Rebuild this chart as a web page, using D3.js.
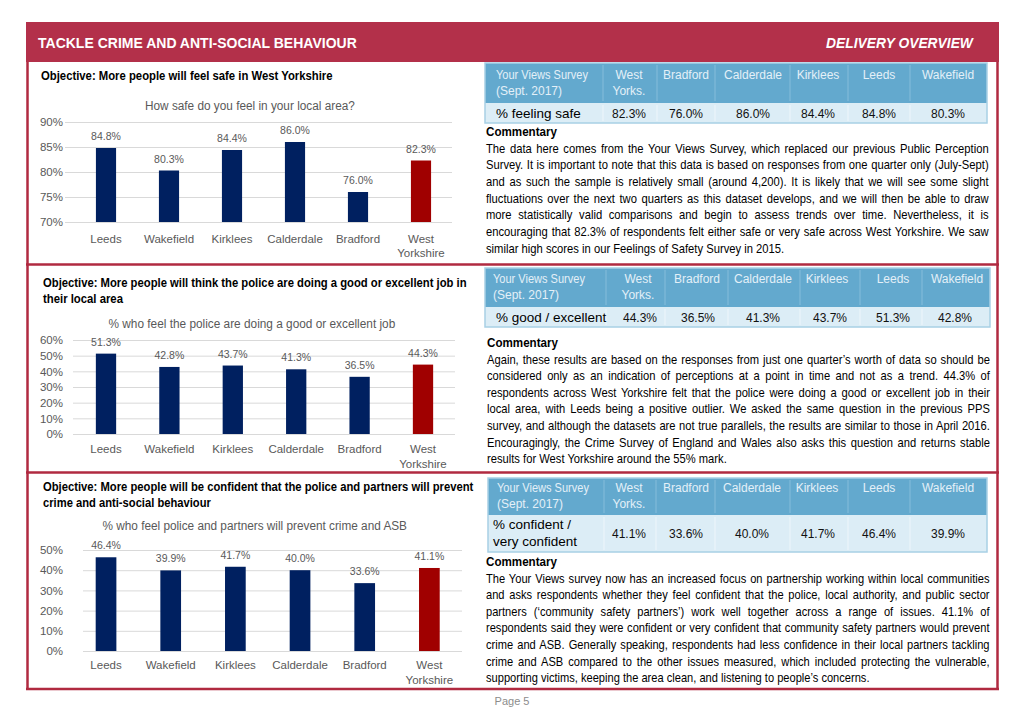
<!DOCTYPE html>
<html>
<head>
<meta charset="utf-8">
<script src="https://cdn.jsdelivr.net/npm/d3@7"></script>
<style>
  html, body { margin: 0; padding: 0; background: #ffffff; }
  svg { display: block; font-family: "Liberation Sans", Arial, sans-serif; }
</style>
</head>
<body>
<script>
// ---------------- DATA ----------------
const categories = ["Leeds", "Wakefield", "Kirklees", "Calderdale", "Bradford", "West Yorkshire"];
const safeValues = [84.8, 80.3, 84.4, 86.0, 76.0, 82.3];
const policeValues = [51.3, 42.8, 43.7, 41.3, 36.5, 44.3];
const confidentValues = [46.4, 39.9, 41.7, 40.0, 33.6, 41.1];

const safeTicks = [70, 75, 80, 85, 90];
const policeTicks = [0, 10, 20, 30, 40, 50, 60];
const confidentTicks = [0, 10, 20, 30, 40, 50];

const tableColumns = ["West Yorkshire", "Bradford", "Calderdale", "Kirklees", "Leeds", "Wakefield"];
const tableHeaderLabels = [["West", "Yorks."], ["Bradford"], ["Calderdale"], ["Kirklees"], ["Leeds"], ["Wakefield"]];

const commentary1 = [
  "The data here comes from the Your Views Survey, which replaced our previous Public Perception",
  "Survey. It is important to note that this data is based on responses from one quarter only (July-Sept)",
  "and as such the sample is relatively small (around 4,200). It is likely that we will see some slight",
  "fluctuations over the next two quarters as this dataset develops, and we will then be able to draw",
  "more statistically valid comparisons and begin to assess trends over time. Nevertheless, it is",
  "encouraging that 82.3% of respondents felt either safe or very safe across West Yorkshire. We saw",
  "similar high scores in our Feelings of Safety Survey in 2015."
];
const commentary2 = [
  "Again, these results are based on the responses from just one quarter\u2019s worth of data so should be",
  "considered only as an indication of perceptions at a point in time and not as a trend. 44.3% of",
  "respondents across West Yorkshire felt that the police were doing a good or excellent job in their",
  "local area, with Leeds being a positive outlier. We asked the same question in the previous PPS",
  "survey, and although the datasets are not true parallels, the results are similar to those in April 2016.",
  "Encouragingly, the Crime Survey of England and Wales also asks this question and returns stable",
  "results for West Yorkshire around the 55% mark."
];
const commentary3 = [
  "The Your Views survey now has an increased focus on partnership working within local communities",
  "and asks respondents whether they feel confident that the police, local authority, and public sector",
  "partners (\u2018community safety partners\u2019) work well together across a range of issues. 41.1% of",
  "respondents said they were confident or very confident that community safety partners would prevent",
  "crime and ASB. Generally speaking, respondents had less confidence in their local partners tackling",
  "crime and ASB compared to the other issues measured, which included protecting the vulnerable,",
  "supporting victims, keeping the area clean, and listening to people\u2019s concerns."
];

// ---------------- STYLE ----------------
const NAVY = "#002060", RED = "#a00000", CRIMSON = "#b3304a", LINE = "#b02a40";
const GREY = "#595959", GRID = "#d9d9d9";
const TH_BG = "#63a9ce", TD_BG = "#dcedf6", T_BORDER = "#a8d0e5", TH_TEXT = "#e4f0f8";

const W = 1024, H = 709;
const svg = d3.select("body").append("svg").attr("width", W).attr("height", H);

// place a single-line text so that it spans `width` px, condensing glyphs with a transform
function fitText(parent, str, x, y, width, attrs, anchor) {
  const t = parent.append("text").attr("x", 0).attr("y", 0);
  Object.entries(attrs).forEach(([k, v]) => t.attr(k, v));
  t.text(str);
  const nat = t.node().getComputedTextLength();
  const s = Math.min(1, width / nat);
  const left = anchor === "middle" ? x - (nat * s) / 2 : x;
  t.attr("transform", `translate(${left},${y}) scale(${s},1)`);
  return t;
}

// ---------------- FRAME ----------------
svg.append("rect").attr("x", 26).attr("y", 22).attr("width", 973).attr("height", 40).attr("fill", CRIMSON);
fitText(svg, "TACKLE CRIME AND ANTI-SOCIAL BEHAVIOUR", 38, 47.5, 319,
  { fill: "#fff", "font-weight": "bold", "font-size": 14.5 });
fitText(svg, "DELIVERY OVERVIEW", 826, 47.5, 147,
  { fill: "#fff", "font-weight": "bold", "font-style": "italic", "font-size": 14.5 });

const frame = svg.append("g").attr("stroke", LINE).attr("stroke-width", 2.5).attr("fill", "none");
frame.append("line").attr("x1", 27.5).attr("x2", 27.5).attr("y1", 62).attr("y2", 690);
frame.append("line").attr("x1", 997.5).attr("x2", 997.5).attr("y1", 62).attr("y2", 690);
frame.append("line").attr("x1", 26).attr("x2", 999).attr("y1", 264.5).attr("y2", 264.5);
frame.append("line").attr("x1", 26).attr("x2", 999).attr("y1", 472.5).attr("y2", 472.5);
frame.append("line").attr("x1", 26).attr("x2", 999).attr("y1", 689).attr("y2", 689);

svg.append("text").attr("x", 512).attr("y", 705).attr("text-anchor", "middle")
  .attr("font-size", 11).attr("fill", "#8c8c8c").text("Page 5");

// ---------------- HELPERS ----------------
function objective(lines, x, y0, widths) {
  lines.forEach((t, i) => {
    fitText(svg, t, x, y0 + i * 15.5, widths[i], { "font-weight": "bold", "font-size": 12.5, fill: "#000" });
  });
}

function barChart(cfg) {
  const g = svg.append("g");
  const x = d3.scaleBand().domain(categories).range(cfg.xRange).paddingInner(0.68).paddingOuter(0.34);
  const y = d3.scaleLinear().domain(cfg.domain).range(cfg.yRange);

  fitText(g, cfg.title, cfg.titleX, cfg.titleY, cfg.titleW, { "font-size": 13.5, fill: GREY }, "middle");

  const grid = g.append("g").attr("transform", `translate(${cfg.grid[1]},0)`)
    .call(d3.axisLeft(y).tickValues(cfg.ticks).tickSize(cfg.grid[1] - cfg.grid[0]).tickFormat(""));
  grid.select(".domain").remove();
  grid.selectAll("line").attr("stroke", GRID);

  const ya = g.append("g").attr("transform", "translate(63,0)")
    .call(d3.axisLeft(y).tickValues(cfg.ticks).tickSize(0).tickPadding(0).tickFormat(d => d + "%"));
  ya.select(".domain").remove();
  ya.selectAll("text").attr("font-size", 11.5).attr("fill", GREY).attr("font-family", "Liberation Sans, Arial, sans-serif");

  const data = categories.map((c, i) => ({ c, v: cfg.values[i] }));
  g.selectAll("rect.bar").data(data).join("rect").attr("class", "bar")
    .attr("x", d => x(d.c)).attr("width", x.bandwidth())
    .attr("y", d => y(d.v)).attr("height", d => y(cfg.domain[0]) - y(d.v))
    .attr("fill", d => d.c === "West Yorkshire" ? RED : NAVY);

  g.selectAll("text.val").data(data).join("text").attr("class", "val")
    .attr("x", d => x(d.c) + x.bandwidth() / 2).attr("y", d => y(d.v) - 8)
    .attr("text-anchor", "middle").attr("font-size", 10.5).attr("fill", GREY)
    .text(d => d.v.toFixed(1) + "%");

  const xa = g.append("g").attr("transform", `translate(0,${cfg.catY})`)
    .call(d3.axisBottom(x).tickSize(0).tickPadding(0));
  xa.select(".domain").remove();
  xa.selectAll("text").attr("font-size", 11.5).attr("fill", GREY)
    .attr("font-family", "Liberation Sans, Arial, sans-serif").attr("dy", 0)
    .each(function (d) {
      const t = d3.select(this);
      const words = d === "West Yorkshire" ? ["West", "Yorkshire"] : [d];
      t.text(null);
      words.forEach((w, i) => t.append("tspan").attr("x", 0).attr("dy", i === 0 ? 0 : 14.5).text(w));
    });
}

function surveyTable(cfg) {
  const g = svg.append("g");
  const [x0, x1] = cfg.x;
  const [yTop, yMid, yBot] = cfg.y;
  g.append("rect").attr("x", x0).attr("y", yTop).attr("width", x1 - x0).attr("height", yMid - yTop).attr("fill", TH_BG);
  g.append("rect").attr("x", x0).attr("y", yMid).attr("width", x1 - x0).attr("height", yBot - yMid).attr("fill", TD_BG);
  cfg.seps.forEach(s => {
    g.append("line").attr("x1", s).attr("x2", s).attr("y1", yTop + 2).attr("y2", yMid - 2)
      .attr("stroke", "#86bddb").attr("stroke-width", 1);
    g.append("line").attr("x1", s).attr("x2", s).attr("y1", yMid + 2).attr("y2", yBot - 2)
      .attr("stroke", "#eef6fb").attr("stroke-width", 1);
  });
  g.append("rect").attr("x", x0).attr("y", yTop).attr("width", x1 - x0).attr("height", yBot - yTop)
    .attr("fill", "none").attr("stroke", T_BORDER).attr("stroke-width", 1.5);

  const hy = cfg.headY;
  fitText(g, "Your Views Survey", cfg.labelX, hy, 92, { "font-size": 12, fill: TH_TEXT });
  g.append("text").attr("x", cfg.labelX).attr("y", hy + 16).attr("font-size", 12).attr("fill", TH_TEXT)
    .text("(Sept. 2017)");
  tableHeaderLabels.forEach((lines, i) => {
    lines.forEach((t, j) => {
      g.append("text").attr("x", cfg.centers[i]).attr("y", hy + j * 16).attr("text-anchor", "middle")
        .attr("font-size", 12).attr("fill", TH_TEXT).text(t);
    });
  });
  cfg.rowLabel.forEach((t, j) => {
    g.append("text").attr("x", cfg.rowLabelX).attr("y", cfg.rowY + (j - (cfg.rowLabel.length - 1) / 2) * 17)
      .attr("font-size", 13.5).attr("fill", "#000").text(t);
  });
  tableColumns.forEach((c, i) => {
    const v = cfg.values[categories.indexOf(c)];
    g.append("text").attr("x", cfg.valCenters[i]).attr("y", cfg.rowY).attr("text-anchor", "middle")
      .attr("font-size", 12).attr("fill", "#111").text(v.toFixed(1) + "%");
  });
}

function commentary(lines, x0, x1, yHead, lh) {
  const FS = 12.5;
  const g = svg.append("g");
  g.append("text").attr("x", 0).attr("y", 0).attr("font-weight", "bold").attr("font-size", FS)
    .attr("fill", "#000").attr("transform", `translate(${x0},${yHead}) scale(0.93,1)`).text("Commentary");
  const target = x1 - x0;
  const probe = svg.append("text").attr("font-size", FS).attr("xml:space", "preserve");
  const naturals = lines.map(t => { probe.text(t); return probe.node().getComputedTextLength(); });
  probe.remove();
  const maxNat = d3.max(naturals.slice(0, -1));
  const s = Math.min(0.95, (target / maxNat) * 0.985);
  const body = g.append("g").attr("transform", `translate(${x0},0) scale(${s},1)`);
  lines.forEach((t, i) => {
    const el = body.append("text").attr("x", 0).attr("y", yHead + (i + 1) * lh)
      .attr("font-size", FS).attr("fill", "#000").attr("xml:space", "preserve").text(t);
    const spaces = (t.match(/ /g) || []).length;
    if (i < lines.length - 1 && spaces > 0) {
      el.attr("word-spacing", (target / s - naturals[i]) / spaces);
    }
  });
}

// ---------------- SECTION 1 ----------------
objective(["Objective: More people will feel safe in West Yorkshire"], 41, 79.5, [292]);
barChart({
  values: safeValues, ticks: safeTicks, domain: [70, 90], yRange: [222, 122],
  xRange: [74.5, 452.5], grid: [65, 452],
  title: "How safe do you feel in your local area?", titleX: 250, titleY: 109.5, titleW: 210,
  catY: 242.5
});
surveyTable({
  x: [485, 987], y: [63, 103, 123], seps: [603, 657, 715, 790, 848, 910],
  labelX: 496, headY: 79, centers: [629, 686, 753, 818, 879, 948],
  rowLabel: ["% feeling safe"], rowLabelX: 496, rowY: 118,
  valCenters: [629, 686, 753, 818, 879, 948], values: safeValues
});
commentary(commentary1, 486, 989, 136, 16.7);

// ---------------- SECTION 2 ----------------
objective(["Objective: More people will think the police are doing a good or excellent job in", "their local area"],
  43, 287, [424, 80]);
barChart({
  values: policeValues, ticks: policeTicks, domain: [0, 60], yRange: [434, 340],
  xRange: [74.3, 454.7], grid: [73, 455],
  title: "% who feel the police are doing a good or excellent job", titleX: 252, titleY: 327.5, titleW: 287,
  catY: 453
});
surveyTable({
  x: [485, 990], y: [268, 307, 327], seps: [606, 665, 728, 800, 860, 922],
  labelX: 493, headY: 283, centers: [638, 697, 763, 827, 893, 957],
  rowLabel: ["% good / excellent"], rowLabelX: 496, rowY: 322,
  valCenters: [640, 698, 763, 830, 893, 955], values: policeValues
});
commentary(commentary2, 487, 990, 347, 16.6);

// ---------------- SECTION 3 ----------------
objective(["Objective: More people will be confident that the police and partners will prevent", "crime and anti-social behaviour"],
  43, 491, [431, 168]);
barChart({
  values: confidentValues, ticks: confidentTicks, domain: [0, 50], yRange: [651, 550],
  xRange: [73.7, 461.7], grid: [83, 462],
  title: "% who feel police and partners will prevent crime and ASB", titleX: 255, titleY: 529.5, titleW: 305,
  catY: 669
});
surveyTable({
  x: [488, 987], y: [478, 515, 552], seps: [604, 656, 715, 790, 848, 910],
  labelX: 497, headY: 492, centers: [629, 686, 752, 817, 879, 948],
  rowLabel: ["% confident /", "very confident"], rowLabelX: 493, rowY: 537.5,
  valCenters: [629, 686, 752, 818, 879, 948], values: confidentValues
});
commentary(commentary3, 486, 990, 566, 16.6);
</script>
</body>
</html>
